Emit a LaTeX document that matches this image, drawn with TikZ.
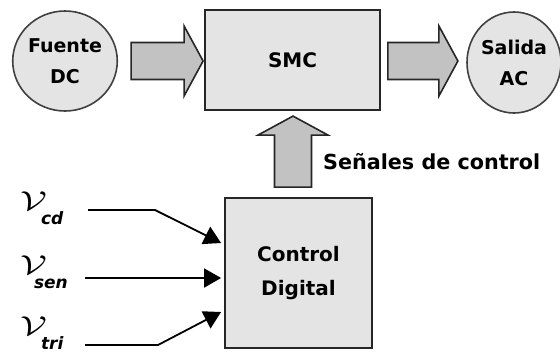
\documentclass[tikz,border=0pt]{standalone}
\usepackage{fontspec}
\setmainfont{DejaVu Sans}
\usetikzlibrary{arrows.meta,shapes.geometric,calc}

\definecolor{panel}{HTML}{E4E4E4}
\definecolor{fatgray}{HTML}{C2C2C2}

\tikzset{
  blockbox/.style={draw=black!85, line width=1.8pt, fill=panel, rectangle, inner sep=0pt},
  roundblock/.style={draw=black!75, line width=1.6pt, fill=panel, ellipse, inner sep=0pt},
  lbl/.style={font=\bfseries\fontsize{19}{31}\selectfont, align=center},
  fatbody/.style={draw=black!85, line width=1.6pt, fill=fatgray, line join=miter},
  sigline/.style={line width=1.8pt, -{Triangle[length=17pt,width=19pt]}},
  % broad block arrow: #1 = total length, shaft half width 18.5, head half width 35, head length 19
  pics/fatarrow/.style={code={
    \draw[fatbody] (0,-18.5) -- (#1-19,-18.5) -- (#1-19,-35) -- (#1,0)
      -- (#1-19,35) -- (#1-19,18.5) -- (0,18.5) -- cycle;
  }}
}
\newcommand\sigvar[1]{\scalebox{1.55}[1.1]{\fontsize{32}{32}\selectfont$\mathcal{V}$}\hspace{-6pt}\raisebox{-14pt}{\bfseries\itshape\fontsize{17}{17}\selectfont #1}}

\begin{document}
\begin{tikzpicture}[x=1pt,y=-1pt]
  \useasboundingbox[fill=white] (0,0) rectangle (560,354);

  % source, converter and load
  \node[roundblock, minimum width=104pt, minimum height=100pt, lbl] (fuente) at (65,61) {Fuente\\DC};
  \node[blockbox, minimum width=175pt, minimum height=100pt, lbl, font=\bfseries\fontsize{20}{24}\selectfont] (smc) at (292.5,60) {SMC};
  \node[roundblock, minimum width=94pt, minimum height=101pt, lbl] (salida) at (514,62.5) {Salida\\AC};

  % digital controller
  \node[blockbox, minimum width=147pt, minimum height=150pt, lbl, text width=140pt, font=\bfseries\fontsize{20}{34}\selectfont] (ctrl) at (298.5,273) {Control\\Digital};

  % power flow arrows
  \pic at ($(fuente.east)+(13,0)$) {fatarrow=72};
  \pic at ($(smc.east)+(7,1)$) {fatarrow=70};
  % control signals arrow
  \pic[rotate=90] at ($(ctrl.north)+(-5.5,-10)$) {fatarrow=71};
  \node[font=\bfseries\fontsize{20.7}{24}\selectfont, anchor=west, inner sep=0pt] (senal) at (323,162) {Señales de control};

  % input signals
  \node[anchor=west, inner sep=0pt] (vcd) at (20,208) {\sigvar{cd}};
  \node[anchor=west, inner sep=0pt] (vsen) at (20,272) {\sigvar{\hspace{-7pt}sen}};
  \node[anchor=west, inner sep=0pt] (vtri) at (20,333) {\sigvar{tri}};

  \coordinate (cdstart) at (88,210);
  \coordinate (senstart) at (85,278);
  \coordinate (tristart) at (85,345);

  \draw[sigline] (cdstart) -- (155,210) -- ($(ctrl.west)+(-3,-30)$);
  \draw[sigline] (senstart) -- ($(ctrl.west)+(-3,5)$);
  \draw[sigline] (tristart) -- (158,345) -- ($(ctrl.west)+(-3,39)$);
\end{tikzpicture}
\end{document}
